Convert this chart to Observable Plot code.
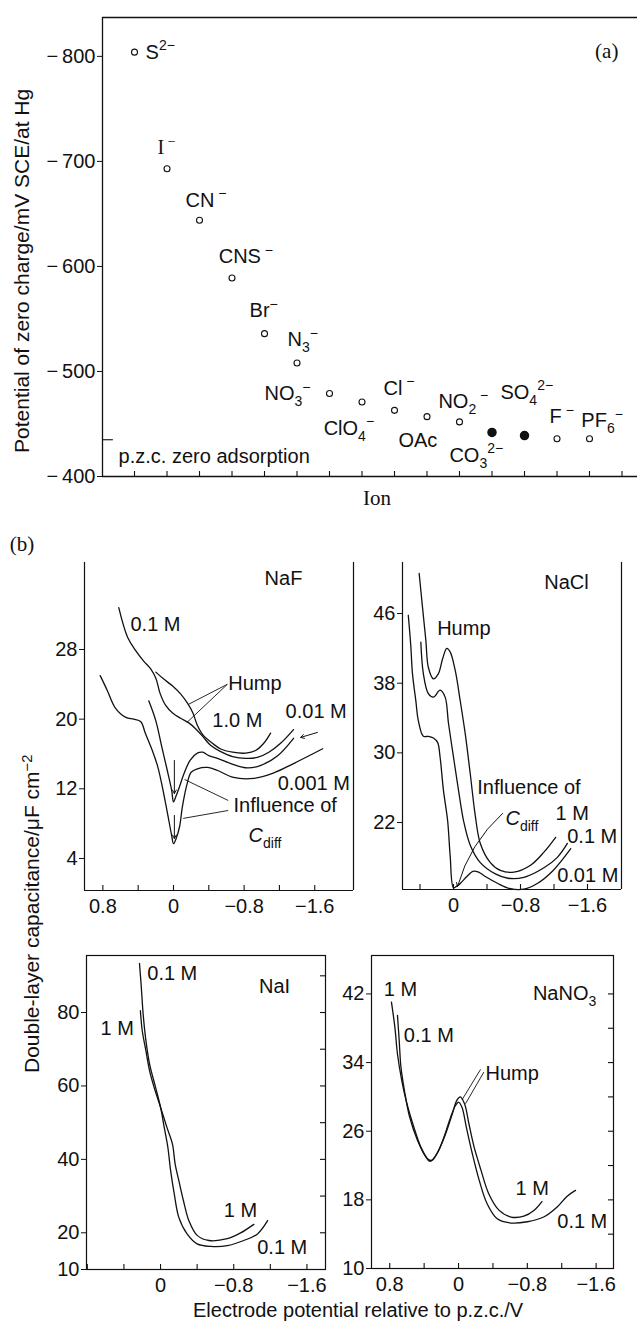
<!DOCTYPE html>
<html>
<head>
<meta charset="utf-8">
<script src="https://cdn.jsdelivr.net/npm/d3@7"></script>
<script src="https://cdn.jsdelivr.net/npm/@observablehq/plot@0.6"></script>
<style>
  html, body { margin: 0; padding: 0; background: #fff; }
  #fig { position: relative; width: 637px; height: 1332px; overflow: hidden; background: #fff; color: #111;
         font-family: "Liberation Sans", Arial, Helvetica, sans-serif; }
  #fig > svg { position: absolute; left: 0; top: 0; }
  .lbl { position: absolute; white-space: nowrap; line-height: 1; color: #111; }
  .rot { transform-origin: 0 0; transform: rotate(-90deg); }
  .ctr { transform: translate(-50%, -50%); }
  .serif { font-family: "Liberation Serif", "Times New Roman", serif; }
  .lbl sup { font-size: 70%; vertical-align: 0.5em; line-height: 0; }
</style>
</head>
<body>
<div id="fig">
  <div class="lbl rot" style="left:11px; top:453px; font-size:21px;">Potential of zero charge/mV SCE/at Hg</div>
  <div class="lbl ctr serif" style="left:377px; top:498px; font-size:21px;">Ion</div>
  <div class="lbl ctr serif" style="left:22px; top:544px; font-size:21px;">(b)</div>
  <div class="lbl rot" style="left:21px; top:1073px; font-size:21px;">Double-layer capacitance/μF cm<sup>−2</sup></div>
  <div class="lbl" style="left:193px; top:1300px; font-size:20px;">Electrode potential relative to p.z.c./V</div>
</div>
<script>
// ================= DATA : panel (a) =================
const ionLabels   = ["S{^2−}", "I{^ −}", "CN{^ −}", "CNS{^ −}", "Br{^−}", "N{_3}{^−}", "NO{_3}{^−}", "ClO{_4}{^−}",
                     "Cl{^ −}", "OAc", "NO{_2}{^ −}", "CO{_3}{^2−}", "SO{_4}{^2−}", "F{^ −}", "PF{_6}{^−}"];
const ionPzc      = [-804, -693, -644, -589, -536, -508, -479, -471, -463, -457, -452, -442, -439, -436, -436];
const ionSpecific = [0, 0, 0, 0, 0, 0, 0, 0, 0, 0, 0, 1, 1, 0, 0];
const ionLabelX   = [0.34, 0.71, 1.57, 2.59, 3.54, 4.71, 4.0, 5.82, 7.66, 8.12, 9.35, 9.69, 11.26, 12.77, 13.75];
const ionLabelY   = [-804, -713, -663, -609, -558, -530, -479, -446, -484, -434, -471, -420, -480, -457, -453];
const pzcZeroAdsorption = -435;
const pzcTicks    = [-800, -700, -600, -500, -400];
const ionTicks    = [0, 1, 2, 3, 4, 5, 6, 7, 8, 9, 10, 11, 12, 13, 14, 15];

// ================= DATA : panel (b) =================
const potentialTicks  = [0.8, 0.4, 0, -0.4, -0.8, -1.2, -1.6];
const potentialLabels = [0.8, 0, -0.8, -1.6];

// NaF  [potential / V, capacitance / uF cm-2]
const naF_0_1M = [[0.62,32.8],[0.52,29.4],[0.43,27.9],[0.34,26.7],[0.26,25.8],[0.20,24.7],[0.15,22.9],[0.09,21.6],
  [0.01,20.7],[-0.08,20.1],[-0.17,19.6],[-0.25,18.9],[-0.34,17.9],[-0.42,17.0],[-0.53,16.3],[-0.67,15.7],[-0.82,15.5],
  [-0.95,15.6],[-1.08,16.2],[-1.21,17.2],[-1.36,18.8]];
const naF_1M = [[0.20,25.4],[0.11,24.6],[0.01,23.8],[-0.08,22.9],[-0.16,21.8],[-0.22,20.7],[-0.27,19.3],[-0.34,18.1],
  [-0.42,17.4],[-0.53,16.6],[-0.67,16.2],[-0.82,16.1],[-0.93,16.4],[-1.02,17.2],[-1.10,18.4]];
const naF_0_01M = [[0.28,22.1],[0.20,19.8],[0.13,16.7],[0.07,14.1],[0.02,11.8],[0.0,10.5],[-0.03,11.2],[-0.07,12.3],
  [-0.11,13.5],[-0.19,15.3],[-0.27,16.1],[-0.33,16.2],[-0.40,15.8],[-0.50,15.5],[-0.65,14.9],[-0.84,14.4],[-0.99,14.7],
  [-1.18,15.8],[-1.36,17.8]];
const naF_0_001M = [[0.83,25.0],[0.75,23.3],[0.66,21.3],[0.54,20.2],[0.45,20.0],[0.37,19.7],[0.32,18.4],[0.24,16.4],
  [0.18,14.6],[0.13,12.4],[0.07,9.3],[0.02,6.6],[0.0,5.7],[-0.03,6.3],[-0.07,7.7],[-0.10,9.9],[-0.15,12.4],[-0.20,13.9],
  [-0.27,14.3],[-0.39,14.45],[-0.50,14.1],[-0.68,13.3],[-0.91,13.2],[-1.13,13.8],[-1.36,14.9],[-1.69,16.6]];
const naF_yTicks = [4, 12, 20, 28];

// NaCl
const naCl_1M = [[0.41,50.6],[0.37,46.7],[0.33,42.9],[0.30,39.8],[0.24,38.5],[0.18,39.1],[0.13,40.8],[0.08,42.0],
  [0.04,41.6],[-0.02,39.5],[-0.08,36.0],[-0.14,32.2],[-0.20,27.6],[-0.26,22.8],[-0.32,19.6],[-0.44,17.4],[-0.56,16.5],
  [-0.72,16.3],[-0.92,17.1],[-1.08,18.6],[-1.22,20.3]];
const naCl_0_1M = [[0.39,42.7],[0.36,39.1],[0.30,36.8],[0.24,36.4],[0.16,37.2],[0.10,36.4],[0.06,33.4],[0.0,29.5],
  [-0.06,25.7],[-0.12,22.2],[-0.20,19.4],[-0.32,17.4],[-0.50,16.1],[-0.65,15.6],[-0.84,15.7],[-1.08,16.8],[-1.24,18.0],
  [-1.36,19.6]];
const naCl_0_01M = [[0.54,45.8],[0.51,42.3],[0.49,39.1],[0.45,36.0],[0.42,33.7],[0.36,31.9],[0.30,31.9],[0.24,31.7],
  [0.19,31.2],[0.16,29.5],[0.12,25.7],[0.07,22.2],[0.04,18.2],[0.0,14.5],[-0.04,14.7],[-0.08,15.0],[-0.16,15.8],
  [-0.23,16.4],[-0.30,16.3],[-0.38,15.8],[-0.53,15.0],[-0.68,14.4],[-0.84,14.35],[-1.00,15.0],[-1.19,16.5],[-1.40,19.0]];
const naCl_yTicks = [22, 30, 38, 46];

// NaI
const naI_1M = [[0.22,80.5],[0.20,75.1],[0.16,69.6],[0.12,64.2],[0.07,59.6],[0.0,54.2],[-0.07,48.7],[-0.13,44.2],
  [-0.16,38.7],[-0.20,34.2],[-0.25,28.8],[-0.31,23.3],[-0.40,19.3],[-0.53,17.9],[-0.73,18.4],[-0.87,19.9],[-1.02,22.3]];
const naI_0_1M = [[0.23,93.4],[0.21,86.9],[0.19,79.6],[0.16,72.4],[0.12,66.0],[0.055,59.7],[0.0,54.2],[-0.04,48.8],
  [-0.08,43.3],[-0.11,37.0],[-0.15,30.6],[-0.20,24.2],[-0.29,19.7],[-0.40,17.0],[-0.55,16.3],[-0.73,16.5],[-0.91,17.9],
  [-1.06,19.7],[-1.17,23.3]];
const naI_yTicks = [10, 20, 40, 60, 80];
const naI_rightTicks = [20, 30, 40, 50, 60, 70, 80, 90];

// NaNO3
const naNO3_1M = [[0.78,41.05],[0.74,38.1],[0.71,35.0],[0.66,31.9],[0.60,29.2],[0.52,26.5],[0.44,24.2],[0.36,22.8],
  [0.31,22.6],[0.23,23.8],[0.15,25.7],[0.07,28.1],[0.02,29.6],[-0.02,30.0],[-0.07,29.2],[-0.12,26.9],[-0.18,24.2],
  [-0.26,21.5],[-0.35,18.75],[-0.47,16.8],[-0.61,16.0],[-0.76,16.1],[-0.88,16.8],[-0.97,17.8]];
const naNO3_0_1M = [[0.71,39.5],[0.69,36.6],[0.67,33.5],[0.63,30.8],[0.57,27.7],[0.48,25.0],[0.38,23.0],[0.33,22.5],
  [0.25,23.4],[0.17,25.3],[0.09,27.7],[0.035,29.0],[0.0,29.4],[-0.04,28.8],[-0.09,26.5],[-0.16,23.4],[-0.24,20.3],
  [-0.33,17.6],[-0.45,15.8],[-0.61,15.3],[-0.80,15.45],[-0.99,16.0],[-1.15,17.2],[-1.26,18.4],[-1.36,19.1]];
const naNO3_yTicks = [10, 18, 26, 34, 42];
const naNO3_rightTicks = [14, 18, 22, 26, 30, 34, 38, 42];

// annotations (data units)
const naF_notes = [
  {t: "0.1 M", x: 0.487, y: 30.9}, {t: "Hump", x: -0.62, y: 24.1}, {t: "1.0 M", x: -0.44, y: 19.85},
  {t: "0.01 M", x: -1.27, y: 20.9}, {t: "0.001 M", x: -1.18, y: 12.55}, {t: "Influence of", x: -0.68, y: 10.03},
  {t: "{~C}{_diff}", x: -0.85, y: 6.64}];
const naF_leaders = [
  {x1: -0.61, y1: 24.0, x2: -0.17, y2: 21.7}, {x1: -0.61, y1: 24.0, x2: -0.15, y2: 19.6},
  {x1: -0.62, y1: 10.66, x2: -0.125, y2: 13.07}, {x1: -0.62, y1: 9.51, x2: -0.11, y2: 8.6}];
const naF_arrows = [
  {x1: -1.63, y1: 18.47, x2: -1.44, y2: 17.9}, {x1: -0.01, y1: 15.25, x2: -0.01, y2: 11.46},
  {x1: -0.01, y1: 8.94, x2: -0.01, y2: 6.3}];
const naCl_notes = [
  {t: "Hump", x: 0.195, y: 44.3}, {t: "Influence of", x: -0.283, y: 25.97}, {t: "{~C}{_diff}", x: -0.621, y: 22.46},
  {t: "1 M", x: -1.218, y: 22.98}, {t: "0.1 M", x: -1.358, y: 20.34}, {t: "0.01 M", x: -1.238, y: 15.92}];
const naCl_arrows = [{x1: -0.585, y1: 23.04, x2: -0.048, y2: 14.66}];
const naI_notes = [
  {t: "0.1 M", x: 0.145, y: 90.6}, {t: "1 M", x: 0.656, y: 75.6}, {t: "1 M", x: -0.692, y: 26.1},
  {t: "0.1 M", x: -1.057, y: 15.85}];
const naNO3_notes = [
  {t: "1 M", x: 0.869, y: 42.52}, {t: "0.1 M", x: 0.636, y: 37.17}, {t: "Hump", x: -0.314, y: 32.75},
  {t: "1 M", x: -0.663, y: 19.37}, {t: "0.1 M", x: -1.148, y: 15.47}];
const naNO3_leaders = [
  {x1: -0.256, y1: 33.2, x2: -0.043, y2: 29.7}, {x1: -0.295, y1: 32.9, x2: -0.081, y2: 29.2}];

// ================= RENDERING =================
const ink = "#111";
const sans = "'Liberation Sans', Arial, Helvetica, sans-serif";
const serif = "'Liberation Serif', 'Times New Roman', serif";
const W = 637, H = 1332;
const fig = document.getElementById("fig");

function basePlot(frame, xDomain, yDomain, marks) {
  return Plot.plot({
    width: W, height: H,
    marginLeft: frame.left, marginRight: W - frame.right,
    marginTop: frame.top, marginBottom: H - frame.bottom,
    x: {domain: xDomain, axis: null},
    y: {domain: yDomain, axis: null},
    style: {background: "transparent", position: "absolute", left: "0px", top: "0px",
            fontFamily: sans, fontSize: "20px", color: ink, overflow: "visible"},
    marks
  });
}

const fmtV = d => d === 0 ? "0" : (d < 0 ? "\u2212" + Math.abs(d) : String(d));

// ---- panel (a)
const ions = ionLabels.map((label, i) => ({
  i, label, pzc: ionPzc[i], specific: ionSpecific[i] === 1, lx: ionLabelX[i], ly: ionLabelY[i]
}));
const frameA = {left: 102, right: 637, top: 17, bottom: 476};
const ionDomain = [-0.985, 15.477];
const pzcDomain = [-400, -837];
fig.append(basePlot(frameA, ionDomain, pzcDomain, [
  Plot.ruleX([ionDomain[0]], {stroke: ink, strokeWidth: 1.3}),
  Plot.ruleY(pzcDomain, {stroke: ink, strokeWidth: 1.3}),
  Plot.tickX(ionTicks, {x: d => d, insetTop: frameA.bottom - frameA.top - 5, stroke: ink, strokeWidth: 1.1}),
  Plot.ruleY([pzcZeroAdsorption], {x1: ionDomain[0], x2: -0.65, stroke: ink, strokeWidth: 1.1}),
  Plot.axisY(pzcTicks, {tickSize: 5, tickPadding: 2, label: null, tickFormat: d => "\u2212\u2009" + Math.abs(d)}),
  Plot.dot(ions.filter(d => !d.specific), {x: "i", y: "pzc", r: 3, stroke: ink, strokeWidth: 1.1, fill: "white"}),
  Plot.dot(ions.filter(d => d.specific), {x: "i", y: "pzc", r: 4, fill: ink, stroke: ink}),
  Plot.text(ions.filter(d => d.i !== 1), {x: "lx", y: "ly", text: "label", textAnchor: "start", lineAnchor: "middle", fill: ink}),
  Plot.text(ions.filter(d => d.i === 1), {x: "lx", y: "ly", text: "label", textAnchor: "start", lineAnchor: "middle", fill: ink, fontFamily: serif}),
  Plot.text(["p.z.c. zero adsorption"], {x: -0.49, y: -419, text: d => d, textAnchor: "start", lineAnchor: "middle", fill: ink}),
  Plot.text(["(a)"], {x: 14.89, y: -805, text: d => d, textAnchor: "end", lineAnchor: "middle", fill: ink, fontFamily: serif, fontSize: 21})
]));

// ---- panel (b) helper
function capPanel(cfg) {
  const {frame, xDomain, yDomain, yTicks, xMinor, xLabels, rightTicks, closed, curves, notes,
         leaders = [], arrows = [], title, bend = 0} = cfg;
  const fw = frame.right - frame.left, fh = frame.bottom - frame.top;
  const marks = [];
  if (closed) marks.push(Plot.frame({stroke: ink, strokeWidth: 1.2}));
  else marks.push(Plot.ruleX(xDomain, {stroke: ink, strokeWidth: 1.2}), Plot.ruleY([yDomain[0]], {stroke: ink, strokeWidth: 1.2}));
  marks.push(Plot.tickX(xMinor, {x: d => d, insetTop: fh - 5, stroke: ink, strokeWidth: 1.1}));
  if (rightTicks) marks.push(Plot.tickY(rightTicks, {y: d => d, insetLeft: fw - 5, stroke: ink, strokeWidth: 1.1}));
  marks.push(
    Plot.axisY(yTicks, {tickSize: 5, tickPadding: 2, label: null, tickFormat: d => String(d)}),
    Plot.axisX(xLabels, {tickSize: 0, tickPadding: 8, label: null, tickFormat: fmtV})
  );
  for (const c of curves) marks.push(Plot.line(c, {x: d => d[0], y: d => d[1], curve: "catmull-rom", stroke: ink, strokeWidth: 1.3}));
  if (leaders.length) marks.push(Plot.link(leaders, {x1: "x1", y1: "y1", x2: "x2", y2: "y2", stroke: ink, strokeWidth: 0.9}));
  if (arrows.length) marks.push(Plot.arrow(arrows, {x1: "x1", y1: "y1", x2: "x2", y2: "y2", stroke: ink, strokeWidth: 1, headLength: 6, bend}));
  marks.push(Plot.text(notes, {x: "x", y: "y", text: "t", textAnchor: "start", lineAnchor: "middle", fill: ink}));
  marks.push(Plot.text([title], {x: d => d.x, y: d => d.y, text: d => d.t, textAnchor: "middle", lineAnchor: "middle", fill: ink}));
  return basePlot(frame, xDomain, yDomain, marks);
}

fig.append(capPanel({
  frame: {left: 84, right: 353, top: 562, bottom: 890},
  xDomain: [1.008, -2.039], yDomain: [0.32, 37.99],
  yTicks: naF_yTicks, xMinor: potentialTicks, xLabels: potentialLabels,
  curves: [naF_0_1M, naF_1M, naF_0_01M, naF_0_001M],
  notes: naF_notes, leaders: naF_leaders, arrows: naF_arrows,
  title: {t: "NaF", x: -1.246, y: 36.1}
}));

fig.append(capPanel({
  frame: {left: 402, right: 621, top: 562, bottom: 889},
  xDomain: [0.609, -2.006], yDomain: [14.31, 51.86],
  yTicks: naCl_yTicks, xMinor: potentialTicks.filter(d => d < 0.6), xLabels: potentialLabels.filter(d => d < 0.6),
  curves: [naCl_1M, naCl_0_1M, naCl_0_01M],
  notes: naCl_notes, arrows: naCl_arrows, bend: -16,
  title: {t: "NaCl", x: -1.349, y: 49.56}
}));

fig.append(capPanel({
  frame: {left: 86, right: 325, top: 955, bottom: 1269},
  xDomain: [0.809, -1.803], yDomain: [10, 95.53], closed: true,
  yTicks: naI_yTicks, rightTicks: naI_rightTicks, xMinor: potentialTicks, xLabels: potentialLabels.filter(d => d < 0.6),
  curves: [naI_1M, naI_0_1M],
  notes: naI_notes,
  title: {t: "NaI", x: -1.246, y: 86.95}
}));

fig.append(capPanel({
  frame: {left: 371, right: 613, top: 955, bottom: 1268},
  xDomain: [1.012, -1.802], yDomain: [10, 46.48], closed: true,
  yTicks: naNO3_yTicks, rightTicks: naNO3_rightTicks, xMinor: potentialTicks, xLabels: potentialLabels,
  curves: [naNO3_1M, naNO3_0_1M],
  notes: naNO3_notes, leaders: naNO3_leaders,
  title: {t: "NaNO{_3}", x: -1.233, y: 42.06}
}));

// ---- rich text: {_sub}, {^sup}, {~italic}
const NS = "http://www.w3.org/2000/svg";
d3.select(fig).selectAll("svg text").each(function () {
  const el = this, s = el.textContent;
  if (!/\{[_^~]/.test(s)) return;
  const fs = parseFloat(getComputedStyle(el).fontSize) || 20;
  const parts = [];
  const re = /\{([_^~])([^}]*)\}/g;
  let last = 0, m;
  while ((m = re.exec(s))) {
    if (m.index > last) parts.push(["", s.slice(last, m.index)]);
    parts.push([m[1], m[2]]);
    last = re.lastIndex;
  }
  if (last < s.length) parts.push(["", s.slice(last)]);
  while (el.firstChild) el.removeChild(el.firstChild);
  let cur = 0;
  for (const [k, t] of parts) {
    const ts = document.createElementNS(NS, "tspan");
    let off = 0;
    if (k === "_") { off = 0.3 * fs; ts.setAttribute("font-size", (0.7 * fs).toFixed(1)); }
    if (k === "^") { off = -0.42 * fs; ts.setAttribute("font-size", (0.7 * fs).toFixed(1)); }
    if (k === "~") ts.setAttribute("font-style", "italic");
    if (off !== cur) { ts.setAttribute("dy", (off - cur).toFixed(1)); cur = off; }
    ts.textContent = t;
    el.appendChild(ts);
  }
});
</script>
</body>
</html>
